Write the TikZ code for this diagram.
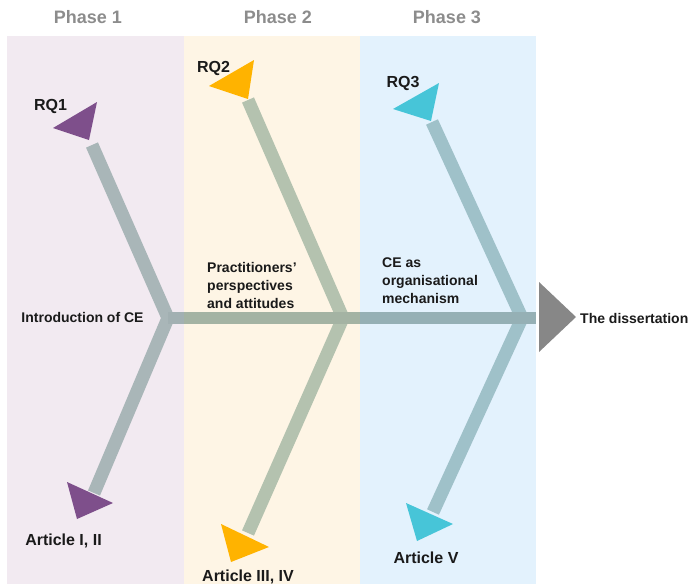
\documentclass[tikz,border=0pt]{standalone}
\usepackage{fontspec}
\setmainfont{Liberation Sans}

\definecolor{panelA}{HTML}{F2EAF1}
\definecolor{panelB}{HTML}{FEF5E5}
\definecolor{panelC}{HTML}{E3F2FD}
\definecolor{boneA}{HTML}{A9B6B8}
\definecolor{boneB}{HTML}{B4C2AF}
\definecolor{boneC}{HTML}{9FC1C9}
\definecolor{spineA}{HTML}{A2B0B2}
\definecolor{spineB}{HTML}{A4B3A3}
\definecolor{spineC}{HTML}{95B0B5}
\definecolor{rqA}{HTML}{7E4F8B}
\definecolor{rqB}{HTML}{FFB300}
\definecolor{rqC}{HTML}{47C5D8}
\definecolor{endgray}{HTML}{878787}
\definecolor{phasegray}{HTML}{8C8C8C}
\definecolor{ink}{HTML}{1A1A1A}

\tikzstyle{phase label}=[font=\fontsize{18}{20}\selectfont\bfseries,text=phasegray,inner sep=0pt]
\tikzstyle{theme label}=[font=\fontsize{14}{18}\selectfont\bfseries,text=ink,inner sep=0pt]
\tikzstyle{item label}=[font=\fontsize{16}{18}\selectfont\bfseries,text=ink,inner sep=0pt]
\tikzstyle{bone}=[draw,line width=13pt,line join=miter]
\tikzstyle{spine}=[draw,line width=12pt]

\begin{document}
\begin{tikzpicture}[x=1pt,y=-1pt]
	\useasboundingbox (0,0) rectangle (689,584);
	% phase panels
	\fill[panelA] (7,36) rectangle (184,584);
	\fill[panelB] (184,36) rectangle (360,584);
	\fill[panelC] (360,36) rectangle (536,584);
	\node[phase label,anchor=base] (ph1) at (88,23) {Phase 1};
	\node[phase label,anchor=base] (ph2) at (278,23) {Phase 2};
	\node[phase label,anchor=base] (ph3) at (447,23) {Phase 3};
	% ends of the bones
	\coordinate (a top) at (92,145);
	\coordinate (a mid) at (168,318);
	\coordinate (a bot) at (94,493);
	\coordinate (b top) at (248,100);
	\coordinate (b mid) at (343,318);
	\coordinate (b bot) at (248,533);
	\coordinate (c top) at (432,122);
	\coordinate (c mid) at (522,318);
	\coordinate (c bot) at (433,512);
	\coordinate (ab) at (184,318);
	\coordinate (bc) at (360,318);
	\coordinate (spine end) at (536,318);
	% bones, then the spine over them
	\path[bone,boneA] (a top) -- (a mid) -- (a bot);
	\path[bone,boneB] (b top) -- (b mid) -- (b bot);
	\path[bone,boneC] (c top) -- (c mid) -- (c bot);
	\path[spine,spineA] (a mid) -- (ab);
	\path[spine,spineB] (ab) -- (bc);
	\path[spine,spineC] (bc) -- (spine end);
	% triangles
	\fill[rqA] (53,128) -- (97,102) -- (89,140) -- cycle;
	\fill[rqA] (67,482) -- (113,503) -- (77,519) -- cycle;
	\fill[rqB] (209,86) -- (254,60) -- (248,99) -- cycle;
	\fill[rqB] (221,524) -- (269,547) -- (231,562) -- cycle;
	\fill[rqC] (393,109) -- (439,83) -- (431,121) -- cycle;
	\fill[rqC] (406,503) -- (453,524) -- (417,541) -- cycle;
	\fill[endgray] (539,282) -- (576,317) -- (539,352) -- cycle;
	% labels
	\node[item label,anchor=base] (rq1) at (50.5,110) {RQ1};
	\node[item label,anchor=base] (rq2) at (213.5,72) {RQ2};
	\node[item label,anchor=base] (rq3) at (403,87) {RQ3};
	\node[item label,anchor=base] (art1) at (63.5,545) {Article I, II};
	\node[item label,anchor=base] (art2) at (248,581) {Article III, IV};
	\node[item label,anchor=base] (art3) at (426,563) {Article V};
	\node[theme label,anchor=base] (intro) at (82.5,322) {Introduction of CE};
	\node[theme label,anchor=north west,align=left] (views) at (207,262) {Practitioners'\\perspectives\\and attitudes};
	\node[theme label,anchor=north west,align=left] (mech) at (382,258) {CE as\\organisational\\mechanism};
	\node[theme label,anchor=base west] (diss) at (580,323) {The dissertation};
\end{tikzpicture}
\end{document}
